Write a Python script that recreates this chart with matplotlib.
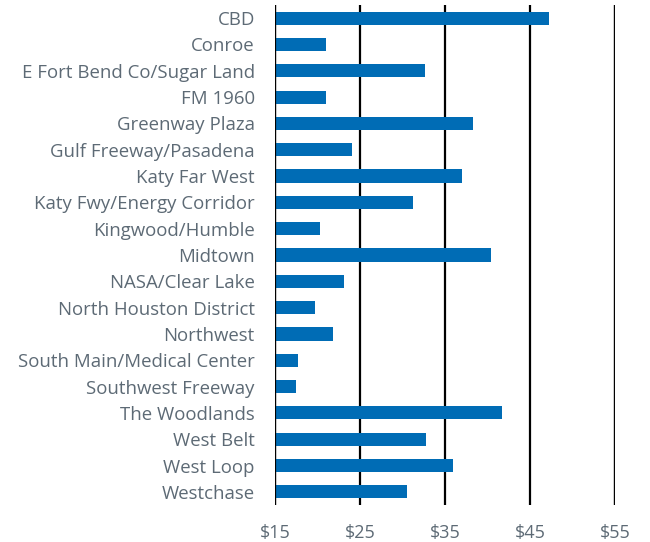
import matplotlib.pyplot as plt

submarkets = ["CBD", "Conroe", "E Fort Bend Co/Sugar Land", "FM 1960", "Greenway Plaza",
              "Gulf Freeway/Pasadena", "Katy Far West", "Katy Fwy/Energy Corridor",
              "Kingwood/Humble", "Midtown", "NASA/Clear Lake", "North Houston District",
              "Northwest", "South Main/Medical Center", "Southwest Freeway", "The Woodlands",
              "West Belt", "West Loop", "Westchase"]
rents = [47.2, 21.0, 32.7, 21.05, 38.3, 24.05, 37.05, 31.25, 20.25, 40.4,
         23.07, 19.74, 21.78, 17.67, 17.5, 41.67, 32.8, 35.95, 30.55]
ticks = [15, 25, 35, 45, 55]
tick_labels = ["$15", "$25", "$35", "$45", "$55"]

plt.rcParams['font.family'] = ['Open Sans', 'DejaVu Sans']
gray = "#5d6a75"

fig = plt.figure(figsize=(6.5, 5.42), dpi=100)
ax = fig.add_axes([275 / 650, 37 / 542, 340 / 650, 500 / 542])

ypos = list(range(len(submarkets)))
ax.barh(ypos, [r - 15 for r in rents], left=15, height=0.5, color="#006cb5", zorder=3)

ax.set_xlim(15, 55)
ax.set_ylim(len(submarkets) - 0.5, -0.5)
ax.set_yticks(ypos)
ax.set_yticklabels(submarkets)
ax.set_xticks(ticks)
ax.set_xticklabels(tick_labels)
ax.tick_params(length=0, labelcolor=gray)
ax.tick_params(axis='y', pad=14.5, labelsize=13.4)
ax.tick_params(axis='x', pad=14, labelsize=13)
ax.grid(axis='x', color='black', linewidth=1.6, zorder=1)
ax.set_axisbelow(True)
for s in ax.spines.values():
    s.set_visible(False)
ax.axvline(15, color='black', linewidth=1.6, zorder=4)
ax.axvline(55, color='black', linewidth=1.6, zorder=4)

fig.savefig("out.png", dpi=100)
